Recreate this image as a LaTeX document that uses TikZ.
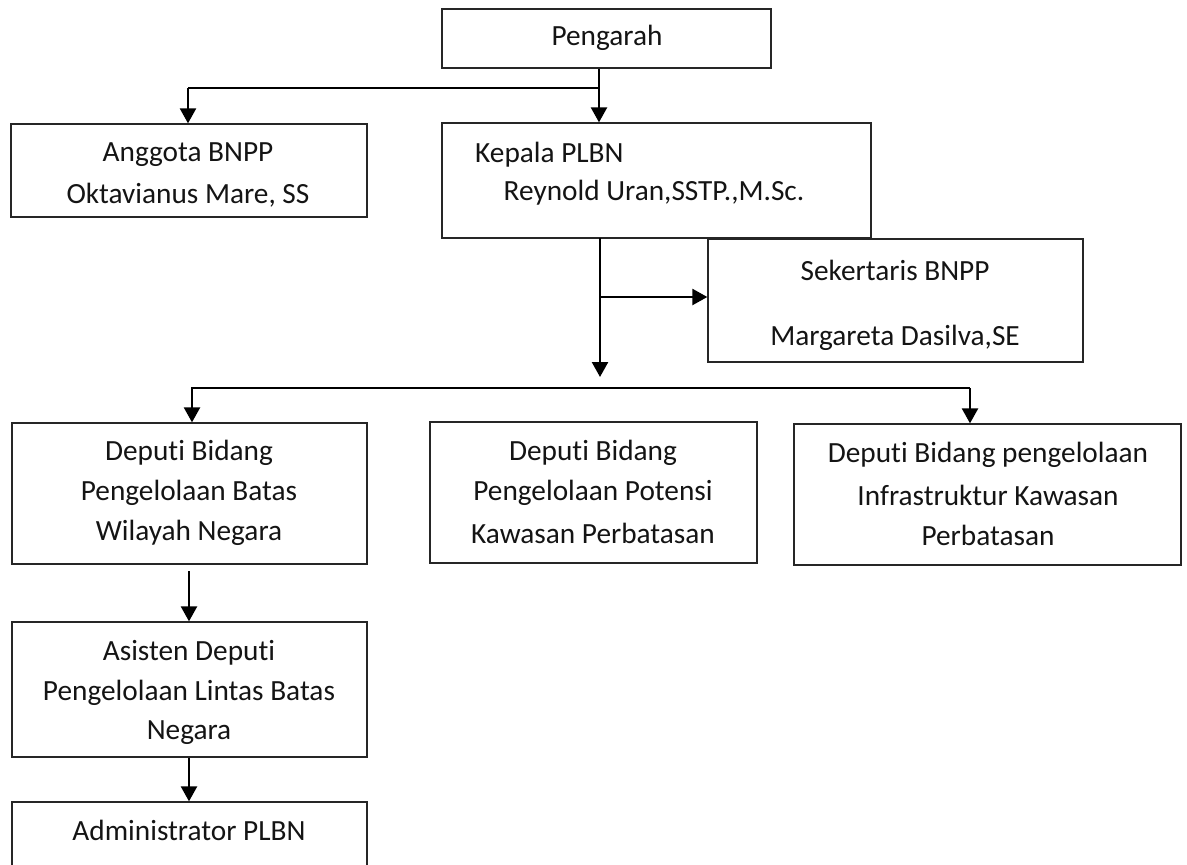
\documentclass[tikz,border=0pt]{standalone}
\usepackage{fontspec}
\setmainfont{Carlito}[Ligatures=NoCommon]
\usetikzlibrary{arrows.meta}
\begin{document}
\begin{tikzpicture}[x=1pt,y=-1pt,
  box/.style={draw=black!85,line width=1.3pt,inner sep=0pt,rectangle},
  lbl/.style={inner sep=0pt,font=\fontsize{29.3}{40}\selectfont,text=black!92},
  conn/.style={line width=2.4pt,black},
  arr/.style={conn,-{Triangle[width=16pt,length=15pt]}}]
\useasboundingbox (0,0) rectangle (1187,865);
\clip (0,0) rectangle (1187,865);
% boxes
\node[box,minimum width=329pt,minimum height=59pt] (peng) at (606.5,38.5) {};
\node[box,minimum width=356pt,minimum height=93pt] (angg) at (189,170.5) {};
\node[box,minimum width=429pt,minimum height=115pt] (kep) at (656.5,180.5) {};
\node[box,minimum width=375pt,minimum height=123pt] (sek) at (895.5,300.5) {};
\node[box,minimum width=355pt,minimum height=141pt] (d1) at (189.5,493.5) {};
\node[box,minimum width=327pt,minimum height=141pt] (d2) at (593.5,492.5) {};
\node[box,minimum width=387pt,minimum height=141pt] (d3) at (987.5,494.5) {};
\node[box,minimum width=355pt,minimum height=135pt] (asis) at (189.5,689.5) {};
\node[box,minimum width=355pt,minimum height=110pt] (adm) at (189.5,857) {};
% texts
\node[lbl] (tpeng) at (607,38) {Pengarah};
\node[lbl] (tangg1) at (188,155) {Anggota BNPP};
\node[lbl] (tangg2) at (188,195) {Oktavianus Mare, SS};
\node[lbl,anchor=west] (tkep1) at (475,155) {Kepala PLBN};
\node[lbl] (tkep2) at (654,193) {Reynold Uran,SSTP.,M.Sc.};
\node[lbl] (tsek1) at (895,270) {Sekertaris BNPP};
\node[lbl] (tsek2) at (895,338) {Margareta Dasilva,SE};
\node[lbl] (td1a) at (189,453) {Deputi Bidang};
\node[lbl] (td1b) at (189,493) {Pengelolaan Batas};
\node[lbl] (td1c) at (189,533) {Wilayah Negara};
\node[lbl] (td2a) at (593,453) {Deputi Bidang};
\node[lbl] (td2b) at (593,493) {Pengelolaan Potensi};
\node[lbl] (td2c) at (593,533) {Kawasan Perbatasan};
\node[lbl] (td3a) at (988,455) {Deputi Bidang pengelolaan};
\node[lbl] (td3b) at (988,495) {Infrastruktur Kawasan};
\node[lbl] (td3c) at (988,535) {Perbatasan};
\node[lbl] (tas1) at (189,653) {Asisten Deputi};
\node[lbl] (tas2) at (189,693) {Pengelolaan Lintas Batas};
\node[lbl] (tas3) at (189,733) {Negara};
\node[lbl] (tadm) at (189,830) {Administrator PLBN};
% junction coordinates
\coordinate (j1) at (599,88);
\coordinate (j1l) at (188,88);
\coordinate (k0) at (600,238);
\coordinate (kb) at (600,297);
\coordinate (kend) at (600,377);
\coordinate (h2l) at (191,388);
\coordinate (h2a) at (192,388);
\coordinate (h2r) at (970,388);
\coordinate (a1) at (189,571);
% connectors
\draw[conn] (peng.south -| j1) -- (j1);
\draw[conn,line width=2pt] (j1l) -- (j1);
\draw[arr] (j1l) -- (angg.north -| j1l);
\draw[arr] (j1) -- (kep.north -| j1);
\draw[arr] (k0) -- (kend);
\draw[arr] (kb) -- (sek.west |- kb);
\draw[conn,line width=2pt] (h2l) -- (h2r);
\draw[arr] (h2a) -- (d1.north -| h2a);
\draw[arr] (h2r) -- (d3.north -| h2r);
\draw[arr] (a1) -- (asis.north -| a1);
\draw[arr] (asis.south -| a1) -- (adm.north -| a1);
\end{tikzpicture}
\end{document}
